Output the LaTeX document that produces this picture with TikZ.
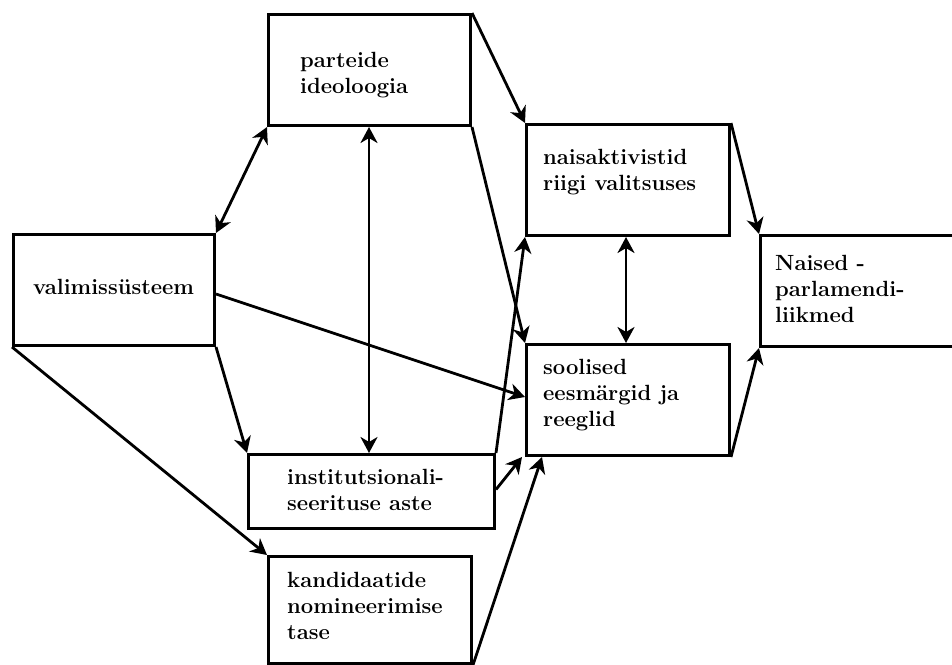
\documentclass[tikz,border=0pt]{standalone}
\usepackage{fontspec}
\usetikzlibrary{arrows.meta,calc}
\begin{document}
\begin{tikzpicture}[x=1pt,y=-1pt,
  box/.style={draw, line width=3pt, rectangle, inner sep=0pt, anchor=north west},
  txt/.style={font=\fontsize{22}{26}\selectfont\bfseries, align=left, inner sep=0pt, anchor=base west},
  arr/.style={line width=2.8pt, -{Stealth[length=16pt,width=17pt,inset=5pt]}},
  darr/.style={line width=2.8pt, {Stealth[length=16pt,width=17pt,inset=5pt]}-{Stealth[length=16pt,width=17pt,inset=5pt]}}]
\useasboundingbox (0,0) rectangle (952,664);
% boxes
\node[box, minimum width=201pt, minimum height=111pt] (val) at (12,233) {};
\node[box, minimum width=202pt, minimum height=111pt] (par) at (267,13) {};
\node[box, minimum width=246pt, minimum height=74pt] (ins) at (247,453) {};
\node[box, minimum width=203pt, minimum height=107pt] (kan) at (267,555) {};
\node[box, minimum width=203pt, minimum height=111pt] (nai) at (525,123) {};
\node[box, minimum width=203pt, minimum height=111pt] (soo) at (525,343) {};
\node[box, minimum width=220pt, minimum height=111pt] (nap) at (759,234) {};
% texts (anchor = baseline of last line)
\node[txt] (valT) at (33,294) {valimiss\"usteem};
\node[txt] (parT) at (300,93) {parteide\\ideoloogia};
\node[txt] (insT) at (287,510) {institutsionali-\\seerituse aste};
\node[txt] (kanT) at (287,639) {kandidaatide\\nomineerimise\\tase};
\node[txt] (naiT) at (543,190) {naisaktivistid\\riigi valitsuses};
\node[txt] (sooT) at (543,426) {soolised\\eesm\"argid ja\\reeglid};
\node[txt] (napT) at (775,322) {Naised -\\parlamendi-\\liikmed};
% connectors
\draw[darr] (val.north east) -- (par.south west);
\draw[arr] (val.south east) -- (ins.north west);
\draw[arr] (val.south west) -- (kan.north west);
\draw[arr] ([yshift=-4pt]val.east) -- ([yshift=3pt]soo.west);
\draw[darr] (par.south -| 369,0) -- (ins.north -| 369,0);
\draw[arr] (par.north east) -- (nai.north west);
\draw[arr] (par.south east) -- (soo.north west);
\draw[arr] (ins.north east) -- (nai.south west);
\draw[arr] ([yshift=2pt]ins.east) -- ([xshift=-3pt]soo.south west);
\draw[arr] (kan.south east) -- ([xshift=17pt]soo.south west);
\draw[darr] (nai.south -| 626,0) -- (soo.north -| 626,0);
\draw[arr] (nai.north east) -- (nap.north west);
\draw[arr] (soo.south east) -- (nap.south west);
\end{tikzpicture}
\end{document}
